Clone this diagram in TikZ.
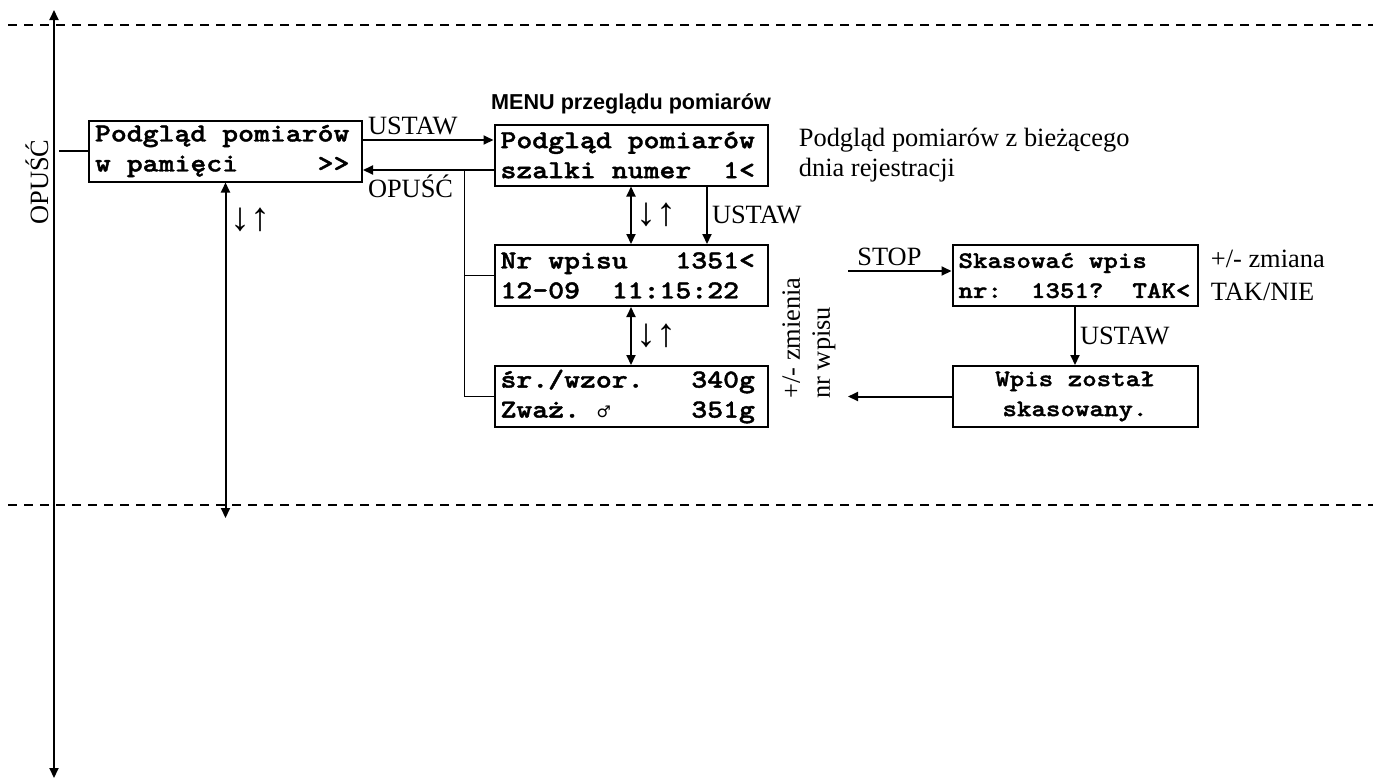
\documentclass[tikz,border=0pt]{standalone}
\usepackage{fontspec}
\setmainfont{Liberation Serif}
\setsansfont{Liberation Sans}
\newfontfamily\lcdfont[FakeStretch=1.165, FakeBold=1.5]{lmmonolt10-bold.otf}
\newfontfamily\symfont{DejaVu Sans}
\usetikzlibrary{positioning,arrows.meta}
\newcommand{\blank}{\hbox to \fontcharwd\font`x{\hss}}
\newcommand{\male}{\hbox to \fontcharwd\font`x{\hss\symfont\fontsize{8}{8}\selectfont ♂\hss}}
\tikzset{
  lcd/.style   ={draw, line width=1pt, align=left, text width=130.5pt,
                 inner xsep=3pt, inner ysep=0pt, minimum height=30.5pt,
                 font=\lcdfont\fontsize{13}{15}\selectfont},
  lcds/.style  ={lcd, text width=116.5pt,
                 font=\lcdfont\fontsize{11.85}{15}\selectfont},
  lbl/.style   ={font=\fontsize{13.2}{15}\selectfont, inner sep=2pt},
  updn/.style  ={font=\fontsize{20}{20}\selectfont, inner sep=2pt},
  note/.style  ={font=\fontsize{13.2}{15}\selectfont, align=left, inner sep=0pt},
  ar/.style    ={-{Triangle[length=5pt,width=4.5pt]}, line width=1pt},
  dar/.style   ={{Triangle[length=5pt,width=4.5pt]}-{Triangle[length=5pt,width=4.5pt]},
                 line width=1pt},
  ln/.style    ={line width=0.8pt},
  sep/.style   ={line width=1pt, dash pattern=on 4.5pt off 3.5pt}
}
\begin{document}
\begin{tikzpicture}[x=0.5pt, y=-0.5pt]
\useasboundingbox (0,0) rectangle (1373,778);
\draw[sep] (8,25) -- (1373,25);
\draw[sep] (8,505) -- (1373,505);

\coordinate (axtop) at (54,10);
\coordinate (axbot) at (54,778);
\draw[dar] (axtop) -- (axbot);
\node[lbl, rotate=90] (opax) at (37,182) {OPUŚĆ};

\node[lcd] (mem) at (225.5,151)
  {Podgląd\blank pomiarów\\w\blank pamięci\blank\blank\blank\blank\blank>>};
\node[lcd] (menu) at (631,155)
  {Podgląd\blank pomiarów\\szalki\blank numer\blank\blank1<};
\node[lcd] (nr) at (631,275.5)
  {Nr\blank wpisu\blank\blank\blank1351<\\12-09\blank\blank11:15:22};
\node[lcd] (avg) at (631,396.5)
  {śr./wzor.\blank\blank\blank340g\\Zważ.\blank\male\blank\blank\blank\blank\blank351g};
\node[lcds] (del) at (1075,275.5)
  {Skasować\blank wpis\\nr:\blank\blank1351?\blank\blank TAK<};
\node[lcds, align=center] (done) at (1075,396.5)
  {Wpis\blank został\\skasowany.};

\node[font=\sffamily\bfseries\fontsize{10.8}{13}\selectfont, above=1pt of menu]
  (title) {MENU przeglądu pomiarów};
\node[note, right=15pt of menu] (info) {Podgląd pomiarów z bieżącego\\dnia rejestracji};
\node[note, right=6pt of del, font=\fontsize{13.2}{16.5}\selectfont] (tak) {+/- zmiana\\TAK/NIE};
\node[note, rotate=90, anchor=north west] (chg) at (782,399) {+/- zmienia\\nr wpisu};

\draw[ln] (mem.west) -- ([xshift=2.5pt]mem.west -| axtop);
\coordinate (bot) at (mem.south |- 0,518);
\draw[dar] (mem.south) -- (bot) node[updn, right, pos=0.11] {↓↑};

\coordinate (ust) at ([yshift=5.5pt]mem.east);
\draw[ar] (ust) -- (ust -| menu.west) node[lbl, anchor=south west, pos=0] {USTAW};
\coordinate (op) at ([yshift=-7.5pt]menu.west);
\draw[ar] (op) -- (op -| mem.east) node[lbl, anchor=north west, pos=1] {OPUŚĆ};
\draw[ln] (avg.west) -- ++(-29,0) coordinate (br) -- (br |- op);
\draw[ln] (nr.west) -- (nr.west -| br);

\draw[dar] (menu.south) -- (nr.north) node[updn, right, midway] {↓↑};
\draw[ar] ([xshift=38pt]menu.south) -- ([xshift=38pt]nr.north)
  node[lbl, right, midway] {USTAW};
\draw[dar] (nr.south) -- (avg.north) node[updn, right, midway] {↓↑};

\coordinate (stopin) at (848,271);
\draw[ar] (stopin) -- (stopin -| del.west) node[lbl, above, pos=0.4] {STOP};
\draw[ar] (del.south) -- (done.north) node[lbl, right, midway] {USTAW};
\coordinate (back) at (848,396.5);
\draw[ar] (done.west) -- (back);
\end{tikzpicture}
\end{document}
